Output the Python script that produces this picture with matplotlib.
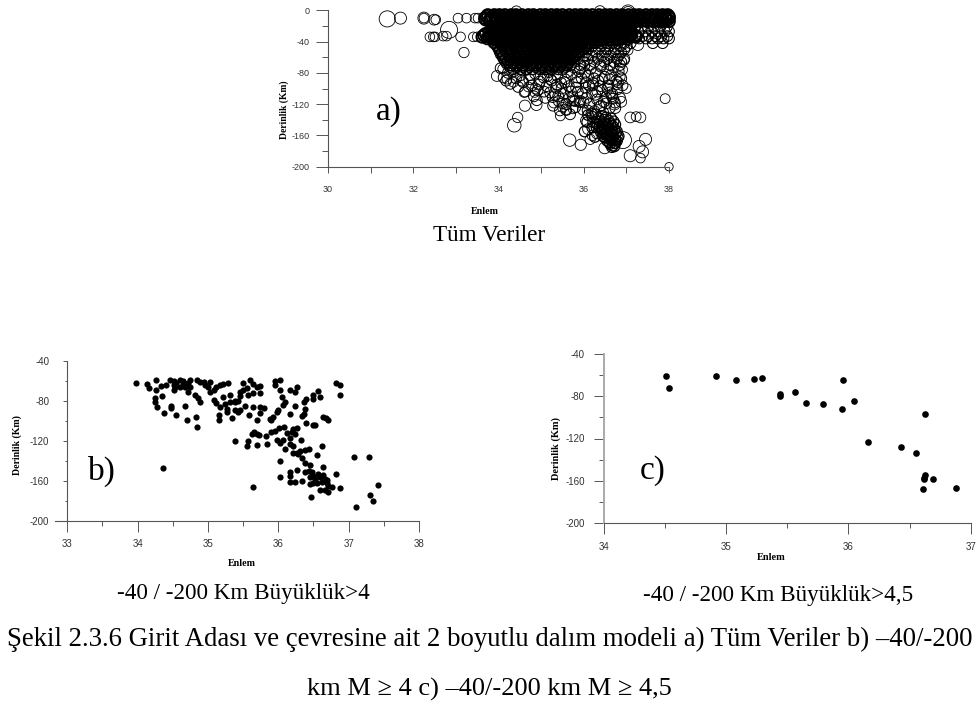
import matplotlib
matplotlib.use('Agg')
import matplotlib.pyplot as plt
from matplotlib.ticker import MultipleLocator

plt.rcParams['font.family'] = ['Liberation Sans', 'DejaVu Sans']
plt.rcParams['axes.unicode_minus'] = False

W, H = 976, 706

# panel a - scattered events, read one by one (lat, depth, magnitude-ish size)
a_lat = [31.39, 31.70, 32.25, 32.25, 32.49, 32.53, 33.05, 33.25, 33.45, 33.52, 32.39, 32.47, 32.51, 32.70,
         32.78, 32.84, 33.11, 33.41, 33.50, 33.19, 33.96, 34.37, 34.45, 34.62, 34.89, 34.87, 37.91, 38.00,
         37.09, 37.33, 37.23, 37.45, 37.30, 37.38, 37.09, 37.33, 36.92, 35.67, 35.93, 36.49, 37.00, 36.88,
         36.90, 37.04, 37.27, 37.04, 37.04, 36.38, 34.42, 34.85, 34.60, 34.20, 34.10, 34.35, 34.70, 35.30,
         35.50, 35.45, 35.60, 35.75, 35.90, 36.05, 36.10, 36.20, 36.15, 36.30, 36.78, 36.85, 36.72, 36.95]
a_dep = [-11, -10, -10, -10, -12, -12, -10, -10, -10, -10, -34, -34, -34, -33,
         -33, -25, -34, -34, -34, -54, -84, -147, -137, -122, -121, -100, -113, -200,
         -137, -137, -136, -165, -174, -181, -186, -189, -166, -166, -172, -176, -100, -117,
         -76, -51, -44, -2, -2, -1, -1, -105, -105, -88, -75, -92, -98, -118,
         -124, -135, -128, -126, -118, -141, -152, -160, -165, -158, -95, -85, -120, -64]
a_size = [135, 75, 75, 48, 60, 48, 48, 48, 48, 48, 48, 48, 48, 48,
          48, 150, 48, 48, 48, 55, 60, 95, 55, 65, 65, 60, 50, 36,
          60, 60, 50, 75, 75, 75, 75, 48, 150, 80, 65, 70, 50, 60,
          60, 50, 70, 100, 60, 60, 55, 50, 50, 50, 50, 50, 50, 60,
          50, 50, 50, 50, 50, 60, 60, 55, 55, 50, 50, 55, 70, 50]

# panel a - depth rows, dense black band on top and below it
dense_depths = [-6, -8, -10, -12, -14, -16, -19, -22, -25, -28, -30, -32, -34, -36, -38, -41]
dense_rows = [
    [33.75, 33.9, 34.02, 34.15, 34.3, 34.41, 34.55, 34.7, 34.82, 34.98, 35.1, 35.24, 35.37, 35.5, 35.66, 35.8, 35.93, 36.06, 36.2, 36.36, 36.5, 36.62, 36.77, 36.9, 37.05, 37.18, 37.3, 37.46, 37.6, 37.72, 37.85, 37.97],
    [33.72, 33.86, 33.98, 34.11, 34.26, 34.38, 34.48, 34.62, 34.76, 34.88, 35.04, 35.16, 35.31, 35.43, 35.58, 35.73, 35.87, 35.99, 36.13, 36.29, 36.43, 36.57, 36.7, 36.84, 36.96, 37.11, 37.26, 37.39, 37.53, 37.67, 37.79, 37.91, 38.0],
    [33.68, 33.83, 33.95, 34.1, 34.22, 34.36, 34.5, 34.63, 34.77, 34.9, 35.04, 35.17, 35.3, 35.45, 35.58, 35.72, 35.85, 36.0, 36.13, 36.27, 36.42, 36.56, 36.7, 36.83, 36.97, 37.1, 37.24, 37.38, 37.52, 37.66, 37.8, 37.92, 38.0],
    [33.7, 33.79, 33.93, 34.05, 34.17, 34.29, 34.44, 34.58, 34.69, 34.84, 34.95, 35.09, 35.21, 35.35, 35.51, 35.63, 35.77, 35.91, 36.04, 36.18, 36.33, 36.47, 36.61, 36.74, 36.88, 37.02, 37.15, 37.29, 37.43, 37.57, 37.7, 37.84, 37.96],
    [33.8, 33.97, 34.08, 34.2, 34.33, 34.47, 34.6, 34.74, 34.86, 35.0, 35.13, 35.27, 35.4, 35.53, 35.68, 35.82, 35.96, 36.1, 36.24, 36.38, 36.52, 36.66, 36.8, 36.93, 37.07, 37.2, 37.34, 37.48, 37.62, 37.76, 37.88, 38.0],
    [33.92, 34.04, 34.19, 34.31, 34.43, 34.57, 34.71, 34.83, 34.99, 35.12, 35.25, 35.39, 35.52, 35.64, 35.79, 35.94, 36.07, 36.22, 36.35, 36.49, 36.63, 36.76, 36.91, 37.03, 37.16],
    [34.0, 34.14, 34.28, 34.4, 34.55, 34.68, 34.82, 34.96, 35.08, 35.22, 35.36, 35.5, 35.62, 35.76, 35.9, 36.04, 36.18, 36.32, 36.46, 36.6, 36.74, 36.9, 37.08],
    [33.95, 34.09, 34.23, 34.35, 34.5, 34.64, 34.79, 34.91, 35.06, 35.19, 35.33, 35.47, 35.6, 35.74, 35.87, 36.01, 36.15, 36.3, 36.44, 36.58, 36.71, 36.87, 37.0],
    [33.85, 34.05, 34.18, 34.33, 34.46, 34.6, 34.75, 34.88, 35.02, 35.16, 35.3, 35.44, 35.58, 35.7, 35.85, 35.98, 36.12, 36.26, 36.4, 36.55, 36.7, 36.85, 37.0],
    [33.78, 33.94, 34.1, 34.24, 34.37, 34.52, 34.66, 34.79, 34.93, 35.07, 35.23, 35.36, 35.49, 35.65, 35.78, 35.92, 36.06, 36.21, 36.35, 36.5, 36.64, 36.79, 36.93, 37.06],
    [33.7, 33.84, 33.98, 34.12, 34.26, 34.4, 34.53, 34.67, 34.8, 34.94, 35.08, 35.2, 35.34, 35.48, 35.62, 35.76, 35.9, 36.03, 36.17, 36.3, 36.45, 36.58, 36.72, 36.86, 37.0, 37.12],
    [33.66, 33.81, 33.96, 34.09, 34.23, 34.36, 34.51, 34.65, 34.77, 34.91, 35.05, 35.18, 35.32, 35.46, 35.59, 35.73, 35.88, 36.01, 36.15, 36.28, 36.42, 36.55, 36.69, 36.83, 36.97, 37.1, 37.2],
    [33.62, 33.78, 33.92, 34.06, 34.2, 34.34, 34.47, 34.6, 34.74, 34.88, 35.02, 35.15, 35.28, 35.42, 35.56, 35.7, 35.84, 35.97, 36.1, 36.24, 36.38, 36.52, 36.66, 36.8, 36.94, 37.08, 37.22],
    [33.74, 33.88, 34.03, 34.16, 34.3, 34.43, 34.57, 34.71, 34.84, 34.97, 35.11, 35.26, 35.39, 35.53, 35.66, 35.8, 35.93, 36.08, 36.22, 36.35, 36.49, 36.63, 36.77, 36.91, 37.04],
    [33.95, 34.08, 34.22, 34.36, 34.5, 34.64, 34.78, 34.92, 35.05, 35.18, 35.32, 35.46, 35.6, 35.74, 35.88, 36.0, 36.14, 36.28, 36.42, 36.6, 36.78],
    [33.9, 34.04, 34.17, 34.31, 34.45, 34.59, 34.72, 34.86, 34.99, 35.13, 35.27, 35.41, 35.55, 35.69, 35.83, 35.96, 36.1, 36.25],
]
core_depths = [-44, -46, -48, -50, -52, -54, -56, -58, -60, -62, -64, -66, -68, -70, -72, -75]
core_rows = [
    [33.95, 34.08, 34.21, 34.35, 34.47, 34.61, 34.73, 34.87, 35.01, 35.14, 35.26, 35.41, 35.54, 35.66, 35.81, 35.94, 36.09],
    [33.98, 34.16, 34.29, 34.42, 34.57, 34.68, 34.82, 34.95, 35.09, 35.22, 35.36, 35.49, 35.61, 35.76, 35.9, 36.04],
    [34.0, 34.13, 34.27, 34.39, 34.54, 34.66, 34.8, 34.93, 35.06, 35.2, 35.33, 35.47, 35.6, 35.74, 35.88, 36.02],
    [34.04, 34.19, 34.33, 34.46, 34.6, 34.74, 34.86, 35.0, 35.13, 35.28, 35.4, 35.55, 35.68, 35.83, 35.97],
    [34.03, 34.17, 34.31, 34.44, 34.57, 34.71, 34.84, 34.97, 35.11, 35.24, 35.38, 35.52, 35.65, 35.79, 35.93],
    [34.09, 34.24, 34.37, 34.51, 34.65, 34.78, 34.91, 35.05, 35.18, 35.32, 35.46, 35.59, 35.73, 35.88],
    [34.06, 34.22, 34.34, 34.48, 34.62, 34.76, 34.89, 35.03, 35.16, 35.3, 35.43, 35.57, 35.71, 35.85],
    [34.13, 34.28, 34.42, 34.55, 34.69, 34.83, 34.96, 35.1, 35.24, 35.37, 35.52, 35.66, 35.8],
    [34.11, 34.26, 34.4, 34.53, 34.67, 34.8, 34.94, 35.07, 35.21, 35.35, 35.49, 35.62, 35.76],
    [34.18, 34.32, 34.46, 34.6, 34.74, 34.88, 35.01, 35.15, 35.29, 35.44, 35.58, 35.72],
    [34.15, 34.29, 34.43, 34.58, 34.7, 34.85, 34.98, 35.13, 35.26, 35.4, 35.54, 35.69],
    [34.23, 34.38, 34.53, 34.67, 34.81, 34.95, 35.09, 35.23, 35.37, 35.51, 35.65],
    [34.2, 34.36, 34.5, 34.63, 34.77, 34.92, 35.05, 35.19, 35.33, 35.47, 35.62],
    [34.3, 34.45, 34.59, 34.75, 34.89, 35.03, 35.17, 35.31, 35.46, 35.6],
    [34.27, 34.42, 34.56, 34.72, 34.86, 35.0, 35.14, 35.28, 35.43, 35.58],
    [34.35, 34.51, 34.66, 34.8, 34.97, 35.11, 35.25, 35.4],
]
open_depths = [-21, -27, -33, -36, -42, -46, -50, -54, -58, -62, -66, -70]
open_rows = [
    [37.2, 37.35, 37.5, 37.64, 37.8, 37.95],
    [37.12, 37.28, 37.44, 37.6, 37.75, 37.9, 38.0],
    [37.25, 37.38, 37.52, 37.68, 37.82, 37.96],
    [37.3, 37.46, 37.6, 37.74, 37.87, 38.0],
    [36.3, 36.42, 36.55, 36.68, 36.8, 36.95, 37.1, 37.62, 37.85],
    [36.05, 36.2, 36.4, 36.6, 36.85, 37.0],
    [36.1, 36.35, 36.55, 36.75, 36.95],
    [35.85, 36.05, 36.28, 36.5, 36.7, 36.88],
    [35.8, 36.0, 36.2, 36.42, 36.62, 36.82],
    [35.68, 35.88, 36.1, 36.33, 36.55, 36.78, 36.95],
    [35.78, 36.0, 36.25, 36.48, 36.7, 36.88],
    [35.7, 35.92, 36.15, 36.4, 36.62, 36.85],
]

# panel a - loose part of the wedge under -70
mid_lat = [34.05, 34.12, 34.22, 34.18, 34.28, 34.36, 34.41, 34.46, 34.52, 34.58, 34.63, 34.66, 34.72, 34.78, 34.83, 34.86, 34.92, 34.97,
           35.02, 35.06, 35.10, 35.13, 35.18, 35.21, 35.25, 35.28, 35.32, 35.35, 35.38, 35.41, 35.44, 35.47, 35.50, 35.53, 35.56, 35.59,
           35.62, 35.65, 35.68, 35.71, 35.74, 35.77, 35.80, 35.83, 35.86, 35.89, 35.92, 35.95, 35.98, 36.01, 36.04, 36.07, 36.10, 36.13,
           36.16, 36.19, 36.22, 36.25, 36.28, 36.31, 36.34, 36.37, 36.40, 36.43, 36.46, 36.49, 36.52, 36.55, 36.58, 36.61, 36.64, 36.67,
           36.70, 36.73, 36.76, 36.79, 36.82, 36.85, 36.88, 36.91, 35.15, 35.33, 35.48, 35.61, 35.76, 35.91, 36.05, 36.18, 36.32, 36.47,
           36.60, 36.74, 34.74, 34.95, 35.22, 35.4, 35.55, 35.7, 35.85, 36.0, 36.12, 36.27, 36.41, 36.56, 36.69, 34.55, 34.9, 35.27, 35.5,
           35.66, 35.82, 35.97, 36.09, 36.24, 36.38, 36.53, 36.66, 36.8, 35.07, 35.37, 35.58, 35.79, 36.03, 36.21, 36.44, 36.62]
mid_dep = [-74, -86, -80, -90, -94, -78, -87, -98, -83, -92, -104, -76, -88, -96, -110, -81, -102, -91,
           -75, -86, -112, -97, -79, -105, -90, -122, -72, -99, -84, -116, -128, -93, -76, -107, -88, -120,
           -70, -97, -133, -82, -110, -73, -124, -92, -104, -78, -116, -87, -127, -71, -99, -112, -84, -120,
           -75, -106, -93, -129, -80, -114, -90, -123, -72, -102, -131, -85, -111, -76, -96, -125, -83, -107,
           -73, -118, -90, -101, -78, -112, -87, -96, -84, -108, -100, -79, -115, -75, -92, -132, -104, -117,
           -88, -125, -83, -95, -88, -110, -92, -104, -86, -118, -96, -108, -122, -100, -113, -90, -115, -111, -119,
           -112, -99, -106, -128, -87, -97, -119, -110, -92, -104, -95, -127, -116, -80, -96, -88, -105]

# panel a - the knot around 36.5 / -155
knot_lat = [36.1, 36.2, 36.28, 36.35, 36.42, 36.48, 36.52, 36.58, 36.64, 36.7, 36.22, 36.3, 36.38, 36.44, 36.5, 36.56, 36.62, 36.68, 36.74,
            36.3, 36.36, 36.42, 36.48, 36.54, 36.6, 36.66, 36.72, 36.78, 36.4, 36.46, 36.52, 36.58, 36.64, 36.7, 36.76, 36.82,
            36.45, 36.5, 36.56, 36.62, 36.68, 36.74, 36.8, 36.55, 36.6, 36.66, 36.72, 36.78, 36.62, 36.68, 36.74, 36.66, 36.72,
            36.38, 36.44, 36.5, 36.56, 36.62, 36.2, 36.08, 36.02, 36.26]
knot_dep = [-134, -136, -133, -138, -135, -140, -137, -141, -138, -142, -143, -145, -142, -146, -144, -147, -145, -148, -146,
            -150, -149, -152, -150, -153, -151, -154, -152, -155, -156, -158, -155, -159, -156, -160, -157, -161,
            -161, -163, -161, -165, -162, -166, -163, -167, -169, -166, -170, -167, -171, -173, -170, -175, -174,
            -148, -152, -156, -160, -164, -150, -143, -155, -162]

# panel b
b_lat = [33.97, 34.14, 34.16, 34.26, 34.26, 34.33, 34.40, 34.35, 34.24, 34.24, 34.27, 34.38, 34.48, 34.48, 34.55, 34.68, 34.70, 34.83, 34.84, 34.36,
         34.46, 34.51, 34.60, 34.55, 34.65, 34.74, 34.84, 34.72, 34.89, 34.95, 35.03, 34.51, 34.51, 34.53, 34.60, 34.65, 34.68, 34.74, 34.72, 34.81, 34.86, 34.89,
         34.96, 35.00, 35.03, 35.08, 35.12, 35.17, 35.22, 35.29, 35.08, 35.12, 35.17, 35.24, 35.27, 35.27, 35.15, 35.16, 35.31, 35.22, 35.34, 35.39, 35.31, 35.43, 35.38,
         35.45, 35.50, 35.60, 35.64, 35.69, 35.64, 35.57, 35.45, 35.50, 35.55, 35.74, 35.74, 35.53, 35.64, 35.59, 35.43, 35.38, 35.45, 35.69, 35.74, 35.79, 35.74, 35.90, 35.88, 35.93, 35.98,
         36.00, 36.07, 36.09, 36.05, 35.95, 35.95, 36.02, 36.03, 36.16, 36.24, 36.26, 36.24, 36.17, 36.40, 36.36, 36.33, 36.36, 36.38, 36.50, 36.50, 36.59, 36.56, 36.40, 36.49, 36.52, 36.64, 36.68, 36.71, 36.82, 36.87, 36.88,
         35.65, 35.69, 35.62, 35.73, 35.83, 35.90, 35.95, 36.01, 36.08, 36.21, 36.26, 36.19, 36.24, 36.17, 36.12, 35.98, 36.07, 36.02, 36.09, 36.17, 36.21, 35.38, 35.57, 35.55, 35.69, 35.84, 36.32, 36.62,
         36.21, 36.26, 36.31, 36.38, 36.43, 36.28, 36.33, 36.38, 36.45, 36.55, 36.02, 37.08, 37.29, 37.42, 36.88, 36.82, 36.64, 36.02, 36.17, 36.16, 36.17, 36.24, 36.27, 36.33, 35.64,
         36.38, 36.43, 36.48, 36.50, 36.45, 36.52, 36.57, 36.59, 36.64, 36.66, 36.62, 36.55, 36.50, 36.45, 36.69, 36.71, 36.66, 36.59, 36.71, 36.76, 36.69, 36.47, 37.11, 37.30, 37.35]
b_dep = [-62, -63, -67, -59, -69, -65, -64, -75, -77, -81, -86, -92, -85, -87, -94, -85, -99, -96, -106, -147,
         -59, -60, -59, -62, -60, -59, -59, -62, -61, -61, -61, -64, -69, -66, -66, -64, -66, -66, -71, -74, -77, -81,
         -64, -66, -71, -69, -66, -64, -63, -62, -79, -82, -86, -83, -88, -91, -94, -99, -74, -76, -97, -81, -81, -80, -80,
         -75, -62, -59, -63, -66, -72, -74, -71, -69, -67, -65, -72, -85, -86, -94, -91, -89, -89, -99, -86, -87, -92, -99, -98, -96, -91,
         -89, -84, -81, -76, -64, -60, -59, -69, -69, -71, -66, -85, -93, -78, -81, -95, -93, -88, -78, -74, -76, -70, -102, -104, -104, -96, -97, -99, -62, -64, -74,
         -111, -113, -113, -114, -115, -111, -110, -107, -106, -108, -107, -111, -113, -117, -112, -119, -119, -122, -128, -123, -125, -120, -120, -125, -124, -123, -119, -125,
         -132, -132, -130, -129, -128, -133, -137, -142, -144, -134, -140, -136, -136, -164, -167, -153, -146, -156, -151, -155, -161, -161, -149, -160, -166,
         -151, -150, -151, -155, -156, -158, -153, -156, -154, -158, -161, -162, -162, -163, -162, -165, -169, -169, -171, -166, -159, -176, -186, -174, -180]

# panel c
c_lat = [34.51, 34.53, 34.92, 35.08, 35.23, 35.29, 35.44, 35.44, 35.56, 35.65, 35.79, 35.95, 35.96, 36.05, 36.16, 36.43, 36.55, 36.63, 36.63, 36.62, 36.62, 36.69, 36.61, 36.88]
c_dep = [-60.5, -72.5, -60.5, -64.6, -63.7, -62.4, -78, -80, -75.7, -86.7, -87.6, -92.4, -64.6, -84.8, -123.6, -128, -134, -96.5, -155, -157, -158.6, -158.6, -167.8, -166.9]


def panel(box, xlim, ylim, xmin, ymaj, xlen, ylen, xpad, ypad, size):
    # box = left, right, top, bottom in image pixels
    x0, x1, ytop, ybot = box
    ax = fig.add_axes([x0 / W, 1 - ybot / H, (x1 - x0) / W, (ybot - ytop) / H])
    ax.set_xlim(xlim)
    ax.set_ylim(ylim)
    ax.patch.set_alpha(0)
    for s in ['top', 'right']:
        ax.spines[s].set_visible(False)
    for s in ['left', 'bottom']:
        ax.spines[s].set_color('#555555')
        ax.spines[s].set_linewidth(0.8)
    ax.xaxis.set_major_locator(MultipleLocator(1))
    ax.xaxis.set_minor_locator(MultipleLocator(xmin))
    ax.yaxis.set_major_locator(MultipleLocator(ymaj))
    ax.yaxis.set_minor_locator(MultipleLocator(ymaj / 2))
    ax.tick_params(axis='x', which='major', length=xlen[0], width=0.7, color='#555555', labelsize=size, labelcolor='#333333', pad=xpad)
    ax.tick_params(axis='x', which='minor', length=xlen[1], width=0.7, color='#555555')
    ax.tick_params(axis='y', which='major', length=ylen[0], width=0.7, color='#555555', labelsize=size, labelcolor='#333333', pad=ypad)
    ax.tick_params(axis='y', which='minor', length=ylen[1], width=0.7, color='#555555')
    return ax


def label(x, y, s, size, **kw):
    fig.text(x / W, 1 - y / H, s, fontsize=size, ha='center', va='center',
             family=['Liberation Serif', 'DejaVu Serif'], color='black', **kw)


fig = plt.figure(figsize=(W / 100, H / 100), dpi=100)

# a)
ax = panel((328, 669, 10.3, 166.7), (30, 38), (-200, 0), 1, 40, (4.3, 4.3), (8.6, 4), 8.6, 4.8, 6.5)
ax.xaxis.set_major_locator(MultipleLocator(2))
for d, row in zip(dense_depths, dense_rows):
    ax.scatter(row, [d] * len(row), s=72, facecolors='none', edgecolors='black', linewidths=1.35, clip_on=False)
for d, row in zip(core_depths, core_rows):
    ax.scatter(row, [d] * len(row), s=66, facecolors='none', edgecolors='black', linewidths=0.95, clip_on=False)
for d, row in zip(open_depths, open_rows):
    ax.scatter(row, [d] * len(row), s=60, facecolors='none', edgecolors='black', linewidths=0.75, clip_on=False)
ax.scatter(mid_lat, mid_dep, s=60, facecolors='none', edgecolors='black', linewidths=0.7, clip_on=False)
ax.scatter(knot_lat, knot_dep, s=58, facecolors='none', edgecolors='black', linewidths=0.9, clip_on=False)
ax.scatter(a_lat, a_dep, s=a_size, facecolors='none', edgecolors='black', linewidths=0.6, clip_on=False)

# b)
ax = panel((67.3, 419, 360.7, 521.3), (33, 38), (-200, -40), 0.5, 40, (8, 3.3), (3, 1.8), 5, 10, 7)
ax.plot([-0.035, 0], [-200, -200], transform=ax.get_yaxis_transform(), color='#555555', lw=0.8, clip_on=False)
ax.scatter(b_lat, b_dep, s=20, color='black', linewidths=0)

# c)
ax = panel((603.7, 970.7, 354, 523), (34, 37), (-200, -40), 0.5, 40, (8, 3.6), (7.2, 3.6), 5.5, 6.5, 7)
ax.spines['left'].set_linewidth(1.4)
ax.spines['left'].set_color('#aaaaaa')
ax.scatter(c_lat, c_dep, s=23, color='black', linewidths=0, clip_on=False)

# axis names
label(284, 110, 'Derinlik (Km)', 6.9, rotation=90, fontweight='bold')
label(485, 212, 'Enlem', 7.2, fontweight='bold')
label(17, 445, 'Derinlik (Km)', 7.1, rotation=90, fontweight='bold')
label(242, 563, 'Enlem', 7.2, fontweight='bold')
label(556, 448, 'Derinlik (Km)', 7.5, rotation=90, fontweight='bold')
label(771, 557, 'Enlem', 7.4, fontweight='bold')

# panel letters
label(389, 112, 'a)', 24)
label(102, 471, 'b)', 24)
label(653, 471, 'c)', 24)

# captions
label(489, 235, 'Tüm Veriler', 16.7)
label(243, 594, '-40 / -200 Km Büyüklük>4', 16.7)
label(778, 595, '-40 / -200 Km Büyüklük>4,5', 16.7)
label(489.5, 639, 'Şekil 2.3.6 Girit Adası ve çevresine ait 2 boyutlu dalım modeli a) Tüm Veriler b) –40/-200', 19.3)
label(489, 689, 'km M ≥ 4 c) –40/-200 km M ≥ 4,5', 19)

fig.savefig('out.png', dpi=100)
